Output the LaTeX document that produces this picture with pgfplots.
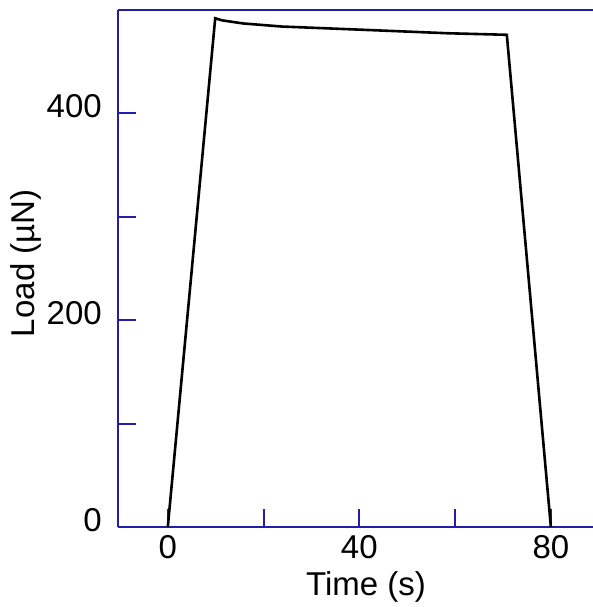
\documentclass[border=0pt]{standalone}
\usepackage{fontspec}
\setmainfont{Liberation Sans}
\usepackage{pgfplots}
\pgfplotsset{compat=1.18}
\definecolor{axblue}{RGB}{36,28,170}
\newcommand{\bigf}{\fontsize{33}{40}\selectfont}
\begin{document}
\begin{tikzpicture}[x=1pt,y=1pt]
\useasboundingbox (0,0) rectangle (593,607);
\begin{axis}[
  at={(118pt,80pt)}, anchor=south west,
  scale only axis, width=475pt, height=517pt,
  xmin=-10.4, xmax=88.8, ymin=0, ymax=500,
  axis lines=left,
  axis line style={-, draw=axblue, line width=2.4pt},
  xtick={0,20,40,60,80}, xticklabels={0,,40,,80},
  ytick={0,100,200,300,400}, yticklabels={0,,200,,400},
  tick align=inside, major tick length=18pt,
  tick style={draw=axblue, line width=2pt},
  /pgf/number format/assume math mode=true,
  tick label style={font=\bigf, inner sep=0pt},
  xticklabel style={anchor=north, yshift=-8pt},
  yticklabel style={anchor=east, xshift=-16pt, yshift=7pt},
  xlabel={Time (s)}, ylabel={Load (µN)},
  label style={font=\bigf, inner sep=0pt},
  xlabel style={at={(axis description cs:0.522,0)}, anchor=base, yshift=-68pt},
  ylabel style={at={(axis description cs:-0.175,0.51)}, anchor=base, rotate=0},
  clip=false,
]
\addplot[black, line width=2.6pt, mark=none] coordinates {
  (0,0) (9.9,492) (11.3,490) (15.7,487) (23.8,484) (40,481) (58.5,477.5) (70.8,476) (80,0)
};
\draw[axblue, line width=2.4pt] (rel axis cs:0,1) -- (rel axis cs:1,1);
\end{axis}
\end{tikzpicture}
\end{document}
